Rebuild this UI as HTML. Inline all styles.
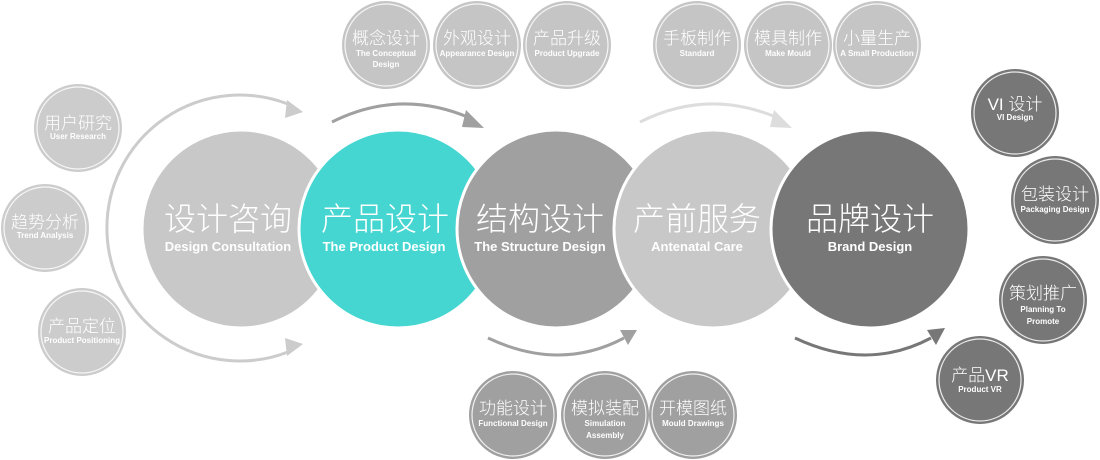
<!DOCTYPE html>
<html><head><meta charset="utf-8"><style>
html,body{margin:0;padding:0;background:#fff;}
svg{display:block;}
text{font-family:"Liberation Sans","Noto Sans CJK SC",sans-serif;fill:#fff;text-anchor:middle;}
.zh{font-weight:300;}
.en{font-weight:bold;}
</style></head><body>
<svg width="1100" height="460" viewBox="0 0 1100 460" xmlns="http://www.w3.org/2000/svg">
<!-- left big arc -->
<path d="M288 352 A133 133 0 1 1 288 104" fill="none" stroke="#cccccc" stroke-width="3"/>
<polygon points="287,100 303,112 285,118" fill="#cccccc"/>
<polygon points="287,356 303,344 285,338" fill="#cccccc"/>
<!-- top arrows -->
<path d="M332 122 Q400 88 470 118" fill="none" stroke="#a0a0a0" stroke-width="3"/>
<polygon points="466,110 484,128 462,127" fill="#a0a0a0"/>
<path d="M640 122 Q708 88 778 118" fill="none" stroke="#dddddd" stroke-width="3"/>
<polygon points="774,110 792,128 770,127" fill="#dddddd"/>
<!-- bottom arrows -->
<path d="M488 338 Q560 372 624 338" fill="none" stroke="#a0a0a0" stroke-width="3"/>
<polygon points="620,330 637,330 628,345" fill="#a0a0a0"/>
<path d="M795 338 Q867 372 931 338" fill="none" stroke="#777777" stroke-width="3"/>
<polygon points="927,330 945,328 936,345" fill="#777777"/>

<!-- big circles -->
<circle cx="241" cy="229" r="99" fill="#c8c8c8" stroke="#fff" stroke-width="3"/>
<circle cx="398" cy="229" r="99" fill="#45d6d2" stroke="#fff" stroke-width="3"/>
<circle cx="556" cy="229" r="99" fill="#a0a0a0" stroke="#fff" stroke-width="3"/>
<circle cx="713" cy="229" r="99" fill="#c8c8c8" stroke="#fff" stroke-width="3"/>
<circle cx="870" cy="229" r="99" fill="#777777" stroke="#fff" stroke-width="3"/>
<g class="zh" font-size="32">
<text x="228" y="230" class="zh">设计咨询</text>
<text x="385" y="230" class="zh">产品设计</text>
<text x="540" y="230" class="zh">结构设计</text>
<text x="697" y="230" class="zh">产前服务</text>
<text x="870" y="230" class="zh">品牌设计</text>
</g>
<g font-size="13">
<text x="228" y="251" class="en">Design Consultation</text>
<text x="384" y="251" class="en">The Product Design</text>
<text x="540" y="251" class="en">The Structure Design</text>
<text x="697" y="251" class="en">Antenatal Care</text>
<text x="870" y="251" class="en">Brand Design</text>
</g>

<!-- small circles -->
<g stroke-width="1.5">
<g fill="#cccccc"><circle cx="78" cy="128" r="44"/><circle cx="45" cy="228" r="44"/><circle cx="82" cy="332" r="44"/></g>
<g fill="#c5c5c5"><circle cx="386" cy="45" r="44"/><circle cx="477" cy="45" r="44"/><circle cx="567" cy="45" r="44"/>
<circle cx="697" cy="45" r="44"/><circle cx="788" cy="45" r="44"/><circle cx="877" cy="45" r="44"/></g>
<g fill="#a0a0a0"><circle cx="513" cy="415" r="44"/><circle cx="605" cy="415" r="44"/><circle cx="693" cy="415" r="44"/></g>
<g fill="#777777"><circle cx="1015" cy="113" r="44"/><circle cx="1055" cy="200" r="44"/><circle cx="1043" cy="300" r="44"/><circle cx="980" cy="380" r="44"/></g>
</g>
<g fill="none" stroke="#fff" stroke-width="1.2" opacity="0.85">
<circle cx="78" cy="128" r="41"/><circle cx="45" cy="228" r="41"/><circle cx="82" cy="332" r="41"/>
<circle cx="386" cy="45" r="41"/><circle cx="477" cy="45" r="41"/><circle cx="567" cy="45" r="41"/>
<circle cx="697" cy="45" r="41"/><circle cx="788" cy="45" r="41"/><circle cx="877" cy="45" r="41"/>
<circle cx="513" cy="415" r="41"/><circle cx="605" cy="415" r="41"/><circle cx="693" cy="415" r="41"/>
<circle cx="1015" cy="113" r="41"/><circle cx="1055" cy="200" r="41"/><circle cx="1043" cy="300" r="41"/><circle cx="980" cy="380" r="41"/>
</g>

<g font-size="17" class="zh">
<text class="zh" x="78" y="129">用户研究</text>
<text class="zh" x="45" y="228">趋势分析</text>
<text class="zh" x="82" y="332">产品定位</text>
<text class="zh" x="386" y="44">概念设计</text>
<text class="zh" x="477" y="44">外观设计</text>
<text class="zh" x="567" y="44">产品升级</text>
<text class="zh" x="697" y="44">手板制作</text>
<text class="zh" x="788" y="44">模具制作</text>
<text class="zh" x="877" y="44">小量生产</text>
<text class="zh" x="513" y="414">功能设计</text>
<text class="zh" x="605" y="414">模拟装配</text>
<text class="zh" x="693" y="414">开模图纸</text>
<text class="zh" x="1015" y="110">VI 设计</text>
<text class="zh" x="1055" y="200">包装设计</text>
<text class="zh" x="1043" y="299">策划推广</text>
<text class="zh" x="980" y="381">产品VR</text>
</g>
<g font-size="8">
<text class="en" x="78" y="139">User Research</text>
<text class="en" x="45" y="238">Trend Analysis</text>
<text class="en" x="82" y="343">Product Positioning</text>
<text class="en" x="386" y="56">The Conceptual</text>
<text class="en" x="386" y="67">Design</text>
<text class="en" x="477" y="56">Appearance Design</text>
<text class="en" x="567" y="56">Product Upgrade</text>
<text class="en" x="697" y="56">Standard</text>
<text class="en" x="788" y="56">Make Mould</text>
<text class="en" x="877" y="56">A Small Production</text>
<text class="en" x="513" y="426">Functional Design</text>
<text class="en" x="605" y="426">Simulation</text>
<text class="en" x="605" y="438">Assembly</text>
<text class="en" x="693" y="426">Mould Drawings</text>
<text class="en" x="1015" y="120">VI Design</text>
<text class="en" x="1055" y="212">Packaging Design</text>
<text class="en" x="1043" y="312">Planning To</text>
<text class="en" x="1043" y="324">Promote</text>
<text class="en" x="980" y="392">Product VR</text>
</g>
</svg>
</body></html>
